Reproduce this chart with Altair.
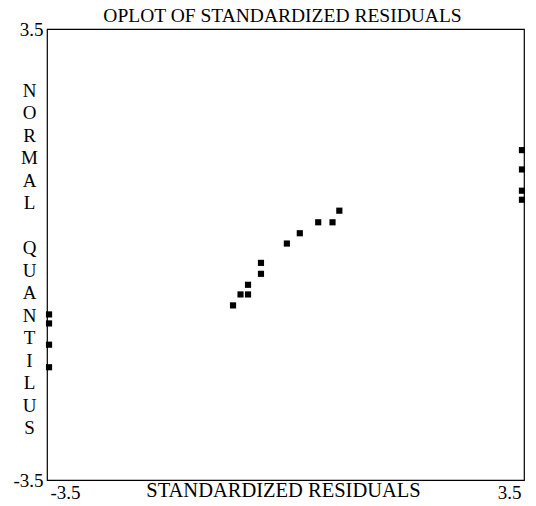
import altair as alt
import pandas as pd

# Standardized residuals (x) and normal quantiles (y)
residuals = [-0.77, -0.66, -0.55, -0.55, -0.36, -0.36, 0.02, 0.21, 0.48, 0.69, 0.79,
             -3.47, -3.47, -3.47, -3.47,
             3.47, 3.47, 3.47, 3.47]
quantiles = [-0.79, -0.62, -0.62, -0.47, -0.30, -0.13, 0.17, 0.33, 0.50, 0.50, 0.68,
             -0.93, -1.07, -1.40, -1.75,
             1.62, 1.32, 0.99, 0.85]

axis_ticks = [-3.5, 3.5]
y_title_letters = ["N", "O", "R", "M", "A", "L", "\u200b", "Q", "U", "A", "N", "T", "I", "L", "U", "S"]

df = pd.DataFrame({"residual": residuals, "quantile": quantiles})

serif = "Liberation Serif"

chart = (
    alt.Chart(df)
    .mark_square(size=38, color="black", opacity=1)
    .encode(
        x=alt.X(
            "residual:Q",
            scale=alt.Scale(domain=[-3.5, 3.5], nice=False, zero=False),
            axis=alt.Axis(
                values=axis_ticks,
                title="STANDARDIZED RESIDUALS",
                labelExpr="'' + datum.value",
                labelFlush=True,
                labelFlushOffset=-3,
                labelPadding=3,
                titleX=236,
                titleY=16,
                titleBaseline="alphabetic",
                titleFontSize=20.5,
            ),
        ),
        y=alt.Y(
            "quantile:Q",
            scale=alt.Scale(domain=[-3.5, 3.5], nice=False, zero=False),
            axis=alt.Axis(
                values=axis_ticks,
                title=y_title_letters,
                labelExpr="'' + datum.value",
                labelFlush=False,
                labelPadding=4,
                titleAngle=0,
                titleX=-18,
                titleY=61,
                titleAlign="center",
                titleBaseline="middle",
                titleLineHeight=22.5,
            ),
        ),
    )
    .properties(
        width=477,
        height=451,
        title=alt.TitleParams(
            text="OPLOT OF STANDARDIZED RESIDUALS",
            font=serif,
            fontSize=19.5,
            fontWeight="normal",
            color="black",
            anchor="middle",
            frame="group",
            dx=-3,
            dy=10,
        ),
        autosize=alt.AutoSizeParams(type="none"),
        padding={"left": 39, "top": 21, "right": 4, "bottom": 24},
        background="white",
    )
    .configure_view(stroke="black", strokeWidth=1.2)
    .configure_axis(
        domain=False,
        ticks=False,
        grid=False,
        labelFont=serif,
        labelFontSize=19,
        labelColor="black",
        titleFont=serif,
        titleFontSize=19,
        titleFontWeight="normal",
        titleColor="black",
    )
)

chart.save("out.html", embed_options={"renderer": "svg", "actions": False})
